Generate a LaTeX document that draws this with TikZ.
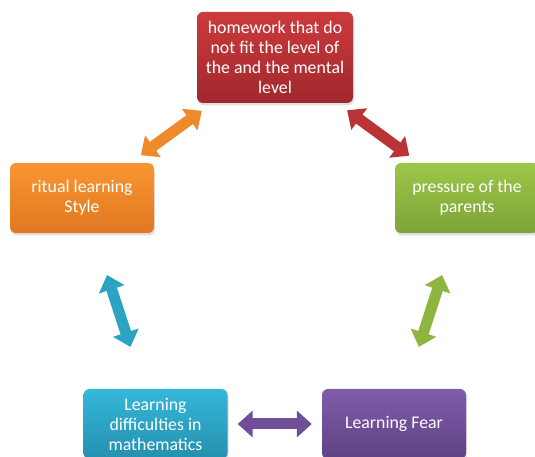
\documentclass[tikz,border=0pt]{standalone}
\usepackage{fontspec}
\setmainfont{Carlito}
\usetikzlibrary{arrows.meta,shadows}
\begin{document}
\begin{tikzpicture}[x=1pt,y=1pt]
\tikzstyle{box}=[rounded corners=6pt,minimum width=144pt,minimum height=70pt,inner sep=2pt,align=center,text=white,font=\fontsize{17.8}{20}\selectfont,drop shadow={opacity=0.25,shadow xshift=1pt,shadow yshift=-2.5pt}]
\tikzstyle{link}=[line width=11pt,{Triangle[length=15pt,width=26pt]}-{Triangle[length=15pt,width=26pt]}]
\definecolor{redtop}{RGB}{204,58,60}
\definecolor{redbot}{RGB}{160,40,45}
\definecolor{orangetop}{RGB}{249,150,50}
\definecolor{orangebot}{RGB}{224,120,32}
\definecolor{greentop}{RGB}{157,198,72}
\definecolor{greenbot}{RGB}{124,164,56}
\definecolor{bluetop}{RGB}{54,183,218}
\definecolor{bluebot}{RGB}{36,144,174}
\definecolor{purpletop}{RGB}{128,92,170}
\definecolor{purplebot}{RGB}{94,66,132}
\tikzstyle{s1}=[top color=redtop,bottom color=redbot]
\tikzstyle{s2}=[top color=orangetop,bottom color=orangebot]
\tikzstyle{s3}=[top color=greentop,bottom color=greenbot]
\tikzstyle{s4}=[top color=bluetop,bottom color=bluebot]
\tikzstyle{s5}=[top color=purpletop,bottom color=purplebot]
\useasboundingbox (0,0) rectangle (535,457);
\node[box,s1,minimum width=156pt,minimum height=91pt] (0) at (275,399.5) {homework that do\\not fit the level of\\the and the mental\\level};
\node[box,s2] (1) at (82,259) {ritual learning\\Style};
\node[box,s3] (2) at (467,259) {pressure of the\\parents};
\node[box,s4] (3) at (155.5,33) {Learning\\difficulties in\\mathematics};
\node[box,s5] (4) at (394,33) {Learning Fear};
\draw[link,orangetop!60!orangebot,shorten <=13pt,shorten >=13pt] (1) edge (0);
\draw[link,redtop!60!redbot,shorten <=12pt,shorten >=12pt] (0) edge (2);
\draw[link,greentop!50!greenbot,shorten <=44pt,shorten >=44pt] (2) edge (4);
\draw[link,bluetop!50!bluebot,shorten <=44pt,shorten >=44pt] (1) edge (3);
\draw[link,purpletop!50!purplebot,shorten <=10pt,shorten >=10pt] (3) edge (4);
\end{tikzpicture}
\end{document}
